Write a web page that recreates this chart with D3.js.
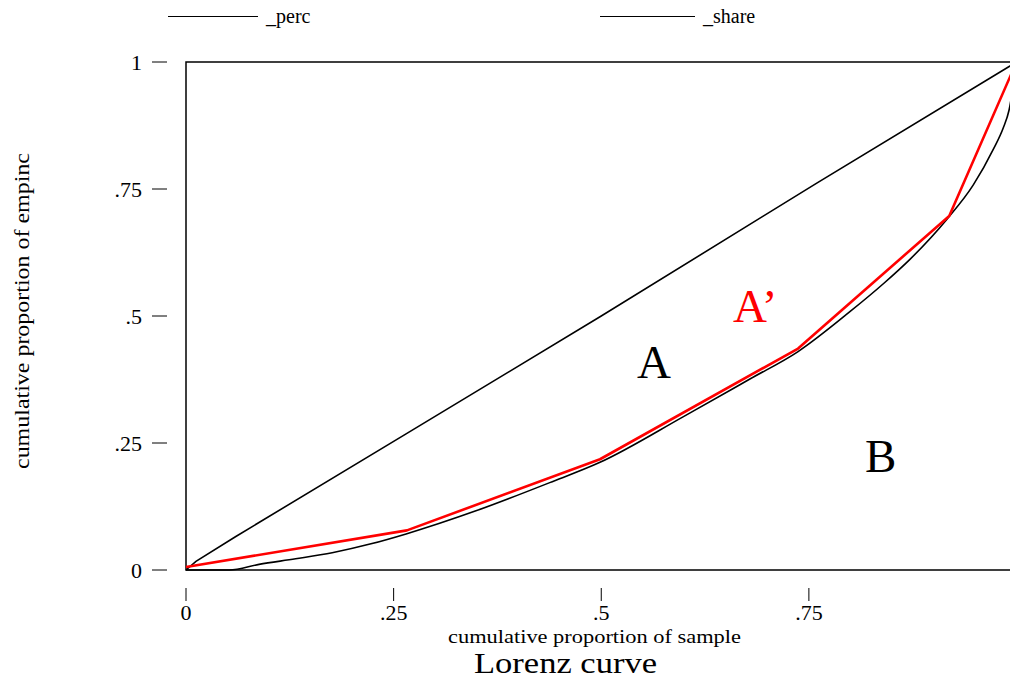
<!DOCTYPE html>
<html>
<head>
<meta charset="utf-8">
<script src="https://cdn.jsdelivr.net/npm/d3@7"></script>
<style>
  html, body { margin: 0; padding: 0; background: #fff; }
  svg { display: block; }
  text { font-family: 'Liberation Serif', 'Times New Roman', serif; fill: #000; }
</style>
</head>
<body>
<svg id="chart" width="1010" height="683"></svg>
<script>
// ── data ──
const xTicks = [0, 0.25, 0.5, 0.75];
const xTickLabels = ['0', '.25', '.5', '.75'];
const yTicks = [0, 0.25, 0.5, 0.75, 1];
const yTickLabels = ['0', '.25', '.5', '.75', '1'];

// _perc : equality line
const percX = [0, 0.012, 0.06, 0.265, 0.5, 0.76, 1];
const percY = [0, 0.017, 0.066, 0.268, 0.5, 0.762, 1];

// _share : Lorenz curve
const shareX = [0, 0.052, 0.088, 0.132, 0.176, 0.224, 0.265, 0.35, 0.438, 0.4985, 0.599, 0.679, 0.737, 0.799, 0.84, 0.872, 0.916, 0.948, 0.972, 0.984, 0.991, 1];
const shareY = [0, 0, 0.011, 0.022, 0.034, 0.052, 0.071, 0.117, 0.172, 0.212, 0.302, 0.376, 0.430, 0.508, 0.564, 0.612, 0.690, 0.758, 0.828, 0.870, 0.905, 1];

// grouped approximation (red)
const groupX = [0, 0.266, 0.4985, 0.737, 0.919, 1];
const groupY = [0.006, 0.078, 0.218, 0.436, 0.697, 1];

const svg = d3.select('#chart');
const x = d3.scaleLinear([0, 1], [186, 1016.5]);
const y = d3.scaleLinear([0, 1], [570, 62]);

// ── legend ──
const leg = svg.append('g');
[[168, 258, '_perc'], [600, 695, '_share']].forEach(([a, b, t]) => {
  leg.append('line').attr('x1', a).attr('x2', b).attr('y1', 16.5).attr('y2', 16.5)
    .attr('stroke', '#000').attr('stroke-width', 1);
  leg.append('text').attr('x', b + 8).attr('y', 23).attr('font-size', 20).text(t);
});

// ── plot frame ──
svg.append('path')
  .attr('d', `M${x(1) + 2},${y(1)}H${x(0)}V${y(0)}H${x(1) + 2}`)
  .attr('fill', 'none').attr('stroke', '#000').attr('stroke-width', 1.5);

// ── y axis (ticks detached from frame) ──
const gy = svg.append('g');
yTicks.forEach((v, i) => {
  gy.append('line').attr('x1', 152).attr('x2', 167).attr('y1', y(v)).attr('y2', y(v))
    .attr('stroke', '#000').attr('stroke-width', 1);
  gy.append('text').attr('x', 142).attr('y', y(v)).attr('dy', '0.36em')
    .attr('text-anchor', 'end').attr('font-size', 22).text(yTickLabels[i]);
});

// ── x axis ──
const gx = svg.append('g');
xTicks.forEach((v, i) => {
  gx.append('line').attr('x1', x(v)).attr('x2', x(v)).attr('y1', 588).attr('y2', 601)
    .attr('stroke', '#000').attr('stroke-width', 1);
  gx.append('text').attr('x', x(v)).attr('y', 620)
    .attr('text-anchor', 'middle').attr('font-size', 22).text(xTickLabels[i]);
});

// axis titles
svg.append('text').attr('x', 594.5).attr('y', 643).attr('text-anchor', 'middle')
  .attr('font-size', 19).attr('textLength', 293).attr('lengthAdjust', 'spacingAndGlyphs')
  .text('cumulative proportion of sample');
svg.append('text').attr('transform', 'translate(29,311) rotate(-90)').attr('text-anchor', 'middle')
  .attr('font-size', 20).attr('textLength', 316).attr('lengthAdjust', 'spacingAndGlyphs')
  .text('cumulative proportion of empinc');
svg.append('text').attr('x', 565.5).attr('y', 673).attr('text-anchor', 'middle')
  .attr('font-size', 30).attr('textLength', 183).attr('lengthAdjust', 'spacingAndGlyphs')
  .text('Lorenz curve');

// ── curves ──
const smooth = d3.line().x(d => x(d[0])).y(d => y(d[1])).curve(d3.curveMonotoneX);
const straight = d3.line().x(d => x(d[0])).y(d => y(d[1]));

svg.append('path').datum(d3.zip(percX, percY)).attr('d', straight)
  .attr('fill', 'none').attr('stroke', '#000').attr('stroke-width', 1.6);
svg.append('path').datum(d3.zip(shareX, shareY)).attr('d', smooth)
  .attr('fill', 'none').attr('stroke', '#000').attr('stroke-width', 1.6);
svg.append('path').datum(d3.zip(groupX, groupY)).attr('d', straight)
  .attr('fill', 'none').attr('stroke', '#ff0000').attr('stroke-width', 2.6)
  .attr('stroke-linejoin', 'round');

// ── area labels ──
svg.append('text').attr('x', 637).attr('y', 378).attr('font-size', 47).text('A');
svg.append('text').attr('x', 865).attr('y', 472).attr('font-size', 47).text('B');
svg.append('text').attr('x', 733).attr('y', 322).attr('font-size', 47)
  .attr('fill', '#ff0000').style('fill', '#ff0000').text('A’');
</script>
</body>
</html>
